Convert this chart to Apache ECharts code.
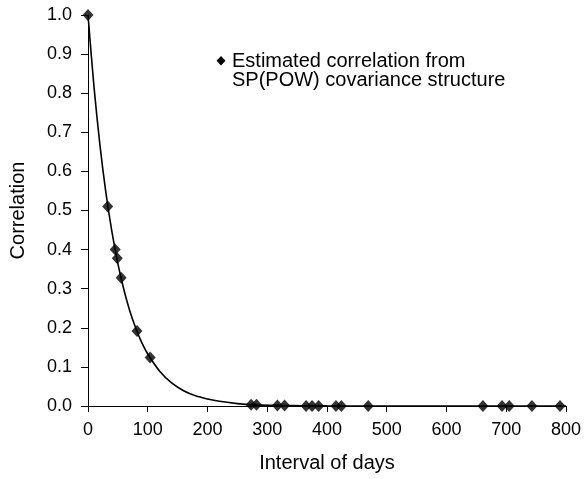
<!doctype html>
<html>
<head>
    <meta charset="utf-8">
    <title>Correlation by interval</title>
    <script src="https://cdn.jsdelivr.net/npm/echarts@6/dist/echarts.min.js"></script>
    <style>
        html, body { margin: 0; padding: 0; background: #fff; }
        #main { width: 584px; height: 479px; }
    </style>
</head>
<body>
    <div id="main"></div>
    <script type="text/javascript">
    // estimated correlations (interval in days, correlation)
    var pointDays = [0, 33, 45.5, 49, 55.5, 82, 104, 273, 282, 317, 329, 365, 375, 386, 415, 424, 469, 661, 693, 705, 743, 790];
    var pointCorr = [1.0, 0.51, 0.40, 0.378, 0.328, 0.192, 0.124, 0.003, 0.003, 0.001, 0.001, 0.0, 0.0, 0.0, 0.0, 0.0, 0.0, 0.0, 0.0, 0.0, 0.0, 0.0];

    // fitted SP(POW) curve
    var curveDays = [0, 10, 20, 30, 40, 50, 60, 70, 80, 90, 100, 120, 140, 160, 180, 200, 220, 250, 280, 320, 400, 500, 600, 700, 800];
    var curveCorr = [1.0, 0.817, 0.667, 0.545, 0.446, 0.364, 0.298, 0.243, 0.199, 0.162, 0.133, 0.089, 0.059, 0.039, 0.026, 0.018, 0.012, 0.006, 0.003, 0.0015, 0.0003, 0.0, 0.0, 0.0, 0.0];

    var legendLines = ['Estimated correlation from', 'SP(POW) covariance structure'];

    var font = '"Liberation Sans", Arial, Helvetica, sans-serif';

    function pairs(xs, ys) {
        var out = [];
        for (var i = 0; i < xs.length; i++) out.push([xs[i], ys[i]]);
        return out;
    }

    var myChart = echarts.init(document.getElementById('main'));

    var option = {
        animation: false,
        grid: { left: 87, right: 17, top: 15, bottom: 73 },
        xAxis: {
            type: 'value',
            min: 0, max: 800, interval: 100,
            name: 'Interval of days',
            nameLocation: 'middle',
            nameGap: 47,
            nameTextStyle: { fontFamily: font, fontSize: 20, color: '#000' },
            axisLine: { lineStyle: { color: '#000', width: 1 } },
            axisTick: { show: true, inside: false, length: 6, lineStyle: { color: '#000' } },
            axisLabel: { fontFamily: font, fontSize: 18, color: '#000', margin: 15 },
            splitLine: { show: false }
        },
        yAxis: {
            type: 'value',
            min: 0, max: 1, interval: 0.1,
            name: 'Correlation',
            nameLocation: 'middle',
            nameGap: 60,
            nameTextStyle: { fontFamily: font, fontSize: 20, color: '#000' },
            axisLine: { show: true, lineStyle: { color: '#000', width: 1 } },
            axisTick: { show: true, inside: false, length: 7, lineStyle: { color: '#000' } },
            axisLabel: {
                fontFamily: font, fontSize: 18, color: '#000', margin: 16,
                formatter: function (v) { return v.toFixed(1); }
            },
            splitLine: { show: false }
        },
        graphic: [
            {
                type: 'polygon',
                shape: { points: [[221, 56], [225.5, 60.7], [221, 65.4], [216.5, 60.7]] },
                style: { fill: '#000' }
            },
            {
                type: 'text',
                left: 232, top: 51,
                style: {
                    text: legendLines.join('\n'),
                    font: '20px ' + font,
                    lineHeight: 19,
                    fill: '#000'
                }
            }
        ],
        series: [
            {
                type: 'line',
                data: pairs(curveDays, curveCorr),
                smooth: 0.3,
                showSymbol: false,
                lineStyle: { color: '#000', width: 1.6 },
                z: 2
            },
            {
                type: 'scatter',
                data: pairs(pointDays, pointCorr),
                symbol: 'diamond',
                symbolSize: [11, 12],
                itemStyle: { color: '#000' },
                z: 3
            }
        ]
    };

    myChart.setOption(option);
    </script>
</body>
</html>
